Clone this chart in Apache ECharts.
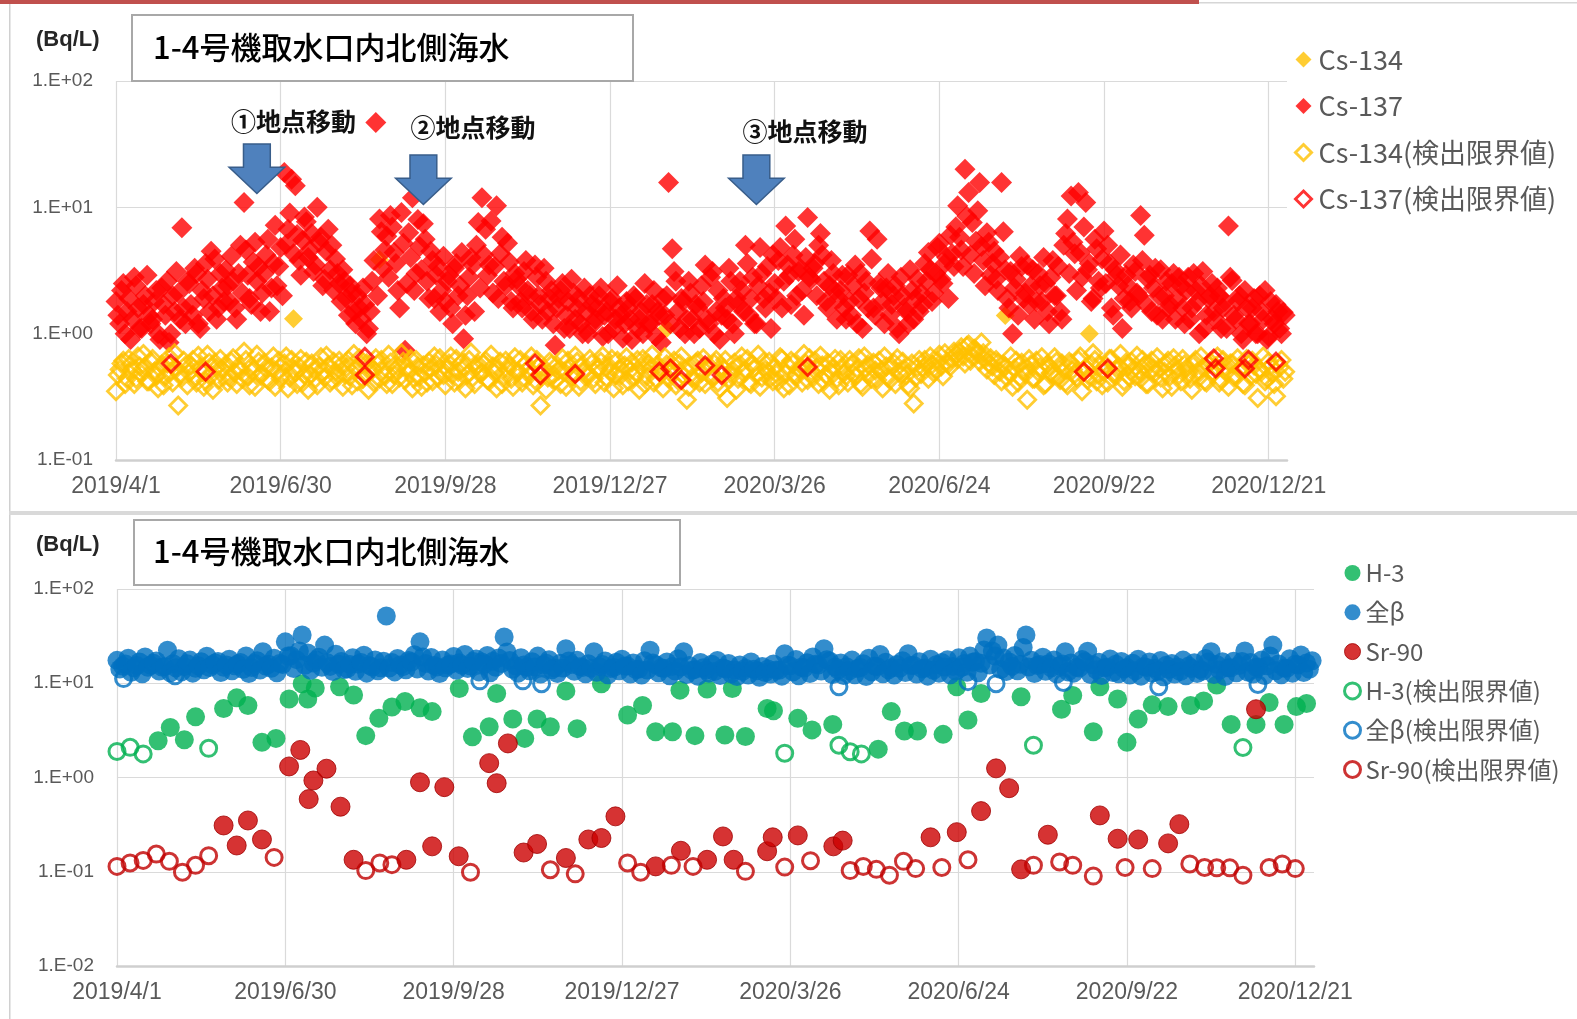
<!DOCTYPE html>
<html><head><meta charset="utf-8">
<script src="https://cdn.jsdelivr.net/npm/echarts@6/dist/echarts.min.js"></script>
<style>html,body{margin:0;padding:0;background:#fff}#c{width:1577px;height:1019px}</style>
</head><body><div id="c"></div><script>
// ---------- axes / labels ----------
const xTickLabels = ['2019/4/1','2019/6/30','2019/9/28','2019/12/27','2020/3/26','2020/6/24','2020/9/22','2020/12/21'];
const X_TICK_DAYS = 90;      // days between tick labels (from 2019/4/1)
const X_MAX_DAY = 640;
const topYExps = [-1, 0, 1, 2];
const topYLabels = ['1.E-01','1.E+00','1.E+01','1.E+02'];
const botYExps = [-2, -1, 0, 1, 2];
const botYLabels = ['1.E-02','1.E-01','1.E+00','1.E+01','1.E+02'];
const chartTitle = '1-4号機取水口内北側海水';
const unitLabel = '(Bq/L)';
const moveLabels = ['①地点移動','②地点移動','③地点移動'];
const moveDays = [77, 168, 350];

// ---------- top panel (Cs) : daily samples from 2019/4/1 (even days / odd days) ----------
const cs137Even = [
 1.8,1.2,2.5,1.5,0.9,2.8,1.6,1.1,2.0,1.4,
 1.3,2.2,0.9,1.7,2.6,1.0,1.5,2.1,6.9,1.2,
 2.5,1.4,3.0,1.1,1.9,2.7,4.5,3.9,1.6,2.3,
 3.2,1.8,2.6,1.3,5.0,10.9,2.9,1.7,5.3,3.4,
 2.1,4.2,1.5,3.6,2.4,4.8,18.9,6.7,16.7,14.8,
 3.8,5.5,7.7,4.6,3.1,10.0,5.8,2.7,6.7,5.0,
 3.9,2.5,3.2,1.9,2.4,1.5,2.0,1.3,1.7,1.1,
 2.6,46.9,8.1,3.3,5.9,8.6,4.4,2.2,9.1,0.74,
 6.3,11.9,3.0,4.9,7.4,2.6,4.5,1.9,3.4,2.2,
 1.8,2.9,1.2,3.6,2.4,0.91,2.0,4.0,1.5,7.6,
 11.9,6.7,3.5,2.1,10.3,4.3,2.6,5.2,1.8,3.0,
 2.4,1.6,3.8,2.0,1.3,2.8,1.7,3.3,1.5,2.2,
 0.81,1.9,2.5,1.4,1.1,2.1,1.6,1.2,2.3,1.0,
 1.7,1.3,2.0,0.95,1.5,1.8,1.1,2.4,1.4,1.2,
 1.6,0.9,1.9,1.3,1.0,1.7,1.2,2.2,1.5,0.85,
 1.4,15.7,4.7,2.6,1.1,1.8,1.3,2.1,1.0,1.6,
 2.4,3.5,1.2,3.1,1.5,0.9,1.9,1.3,2.6,1.0,
 1.7,2.2,5.0,1.4,2.8,1.2,4.8,1.9,3.4,1.1,
 2.5,3.8,1.6,7.1,2.9,4.2,2.0,3.3,1.4,8.3,
 2.7,3.6,5.0,4.2,1.8,2.4,3.0,1.3,2.2,1.6,
 2.9,1.4,3.5,1.9,1.1,2.6,6.5,1.6,5.6,2.3,
 1.2,3.0,1.7,2.4,1.0,2.0,1.5,3.2,1.3,2.7,
 2.1,3.6,4.4,1.8,3.0,5.2,2.5,4.0,6.0,3.4,
 10.3,4.6,20.0,13.1,7.6,5.4,15.7,3.8,6.3,2.9,
 4.5,2.2,15.7,3.2,1.6,1.0,2.7,4.1,1.9,3.5,
 2.4,1.3,3.0,1.8,2.5,1.2,3.8,2.0,1.5,5.0,
 8.1,12.3,4.3,13.1,2.8,10.9,3.6,1.9,4.7,2.3,
 6.5,5.0,1.6,3.2,2.4,1.1,2.9,1.8,3.5,2.1,
 8.6,6.0,2.7,1.5,3.3,2.0,1.3,2.6,1.7,3.0,
 1.9,2.4,1.2,2.8,1.6,2.2,1.0,3.1,1.4,2.0,
 1.5,2.3,1.1,1.8,7.1,2.63,1.3,2.0,0.9,1.6,
 1.2,1.9,1.0,1.5,2.2,0.95,1.3,1.7,1.1,1.48
];
const cs137Odd = [
 1.4,2.2,1.0,1.9,1.3,2.4,1.1,1.7,2.9,1.2,
 1.8,1.0,2.3,1.4,0.85,2.0,3.1,1.3,1.6,2.6,
 1.7,3.3,1.2,2.2,3.6,1.5,2.0,1.3,3.0,1.8,
 2.4,4.1,1.6,3.0,2.1,4.6,1.9,3.7,2.6,1.5,
 3.0,5.6,2.3,7.2,3.4,2.0,5.1,9.0,4.3,6.1,
 2.9,8.4,4.0,6.2,3.5,5.3,2.4,4.5,3.2,2.2,
 3.0,1.8,2.6,1.4,2.1,1.2,1.6,2.3,1.0,1.5,
 3.8,2.0,6.4,4.6,2.8,7.0,3.6,1.6,5.2,2.5,
 4.0,2.2,8.0,3.2,5.6,1.9,3.8,2.9,1.5,4.1,
 2.6,1.6,3.3,2.0,4.4,1.4,2.8,3.5,5.0,2.3,
 4.2,2.9,7.8,3.4,1.9,5.8,2.4,3.7,1.6,2.7,
 1.8,3.1,2.2,1.5,3.5,2.0,1.3,2.6,1.9,1.2,
 1.6,2.2,1.1,1.8,2.7,1.3,1.9,1.0,1.5,2.0,
 1.2,1.6,2.3,1.4,1.0,1.9,1.3,1.6,0.92,1.8,
 1.3,2.0,1.1,1.5,2.5,1.2,1.7,0.95,1.4,1.9,
 2.0,1.2,3.1,1.5,1.9,1.0,2.6,1.3,1.7,1.1,
 1.8,1.3,2.8,1.0,2.2,1.4,1.6,3.3,1.2,1.9,
 2.6,1.5,3.6,1.9,1.2,2.4,3.0,1.6,2.1,4.2,
 1.9,4.8,2.6,3.5,1.7,5.6,3.1,2.2,4.0,2.8,
 3.3,2.0,6.2,2.6,1.6,3.8,2.2,1.9,2.9,1.3,
 1.8,2.4,1.2,3.0,2.1,1.6,3.9,1.4,2.5,1.8,
 2.3,1.4,2.0,1.1,2.8,1.6,1.2,2.2,1.9,1.5,
 1.7,2.6,3.2,2.1,4.8,2.7,3.6,1.9,4.3,7.0,
 5.8,3.4,8.5,4.2,3.0,9.4,4.9,2.4,5.3,3.6,
 2.7,4.0,6.4,1.9,3.1,2.3,1.4,3.4,2.1,1.7,
 3.2,1.8,2.4,4.0,1.5,2.8,2.0,3.4,1.3,6.2,
 3.0,5.3,2.2,4.4,7.0,3.2,1.8,5.6,2.6,3.9,
 2.5,3.6,1.4,2.9,4.2,1.9,2.4,1.6,3.1,2.0,
 3.8,1.7,2.9,2.3,1.4,3.2,2.0,1.6,2.5,1.3,
 2.8,1.6,2.2,1.3,3.0,1.8,2.4,1.1,1.9,2.5,
 1.3,2.0,1.6,1.1,2.8,1.4,1.8,1.0,2.2,1.2,
 1.6,1.0,2.0,1.3,0.9,1.8,1.2,1.5,1.0,1.4
];
const cs134DlEven = [
 0.35,0.52,0.61,0.44,0.57,0.40,0.66,0.48,0.55,0.42,
 0.63,0.46,0.53,0.39,0.58,0.50,0.70,0.27,0.45,0.56,
 0.49,0.62,0.41,0.54,0.38,0.68,0.47,0.59,0.43,0.52,
 0.57,0.45,0.64,0.40,0.51,0.72,0.46,0.55,0.38,0.60,
 0.48,0.53,0.42,0.66,0.50,0.44,0.58,0.37,0.62,0.49,
 0.55,0.41,0.60,0.47,0.52,0.39,0.65,0.45,0.56,0.43,
 0.50,0.61,0.38,0.54,0.46,0.69,0.42,0.57,0.48,0.36,
 0.53,0.64,0.44,0.51,0.40,0.59,0.47,0.55,0.70,0.43,
 0.50,0.37,0.62,0.46,0.56,0.41,0.53,0.66,0.45,0.52,
 0.39,0.58,0.48,0.63,0.43,0.54,0.47,0.71,0.40,0.57,
 0.49,0.61,0.42,0.55,0.37,0.60,0.46,0.52,0.44,0.65,
 0.50,0.41,0.58,0.47,0.39,0.62,0.27,0.53,0.45,0.57,
 0.43,0.51,0.64,0.38,0.55,0.48,0.60,0.42,0.52,0.46,
 0.58,0.40,0.54,0.67,0.45,0.50,0.37,0.61,0.47,0.56,
 0.42,0.59,0.49,0.36,0.63,0.46,0.53,0.41,0.57,0.48,
 0.65,0.44,0.52,0.39,0.58,0.47,0.30,0.55,0.43,0.61,
 0.49,0.40,0.56,0.45,0.62,0.37,0.53,0.31,0.48,0.59,
 0.44,0.66,0.51,0.41,0.57,0.47,0.38,0.60,0.50,0.45,
 0.55,0.42,0.63,0.48,0.39,0.58,0.46,0.52,0.69,0.43,
 0.50,0.61,0.40,0.56,0.47,0.36,0.54,0.44,0.62,0.49,
 0.41,0.57,0.46,0.64,0.38,0.53,0.48,0.59,0.43,0.51,
 0.66,0.45,0.55,0.40,0.50,0.60,0.47,0.37,0.28,0.54,
 0.48,0.62,0.44,0.57,0.51,0.68,0.46,0.60,0.55,0.72,
 0.63,0.78,0.58,0.82,0.66,0.74,0.60,0.70,0.52,0.64,
 0.47,0.59,0.42,0.55,0.49,0.38,0.61,0.45,0.53,0.30,
 0.57,0.44,0.50,0.65,0.40,0.55,0.47,0.60,0.43,0.52,
 0.39,0.58,0.48,0.62,0.35,0.54,0.46,0.70,0.42,0.56,
 0.50,0.41,0.63,0.47,0.55,0.38,0.59,0.45,0.52,0.67,
 0.44,0.56,0.40,0.61,0.49,0.53,0.37,0.58,0.46,0.64,
 0.51,0.42,0.57,0.48,0.36,0.62,0.45,0.54,0.41,0.60,
 0.49,0.66,0.43,0.55,0.38,0.58,0.47,0.52,0.40,0.63,
 0.46,0.56,0.31,0.50,0.42,0.60,0.48,0.32,0.54,0.44
];
const cs134DlOdd = [
 0.47,0.58,0.40,0.63,0.51,0.44,0.55,0.69,0.42,0.60,
 0.50,0.37,0.57,0.46,0.65,0.41,0.53,0.48,0.61,0.39,
 0.56,0.45,0.67,0.50,0.42,0.59,0.36,0.54,0.63,0.46,
 0.41,0.60,0.49,0.55,0.44,0.62,0.39,0.51,0.68,0.47,
 0.59,0.43,0.54,0.38,0.61,0.48,0.66,0.45,0.52,0.40,
 0.63,0.47,0.36,0.58,0.44,0.55,0.49,0.67,0.41,0.60,
 0.45,0.56,0.48,0.62,0.39,0.53,0.64,0.44,0.58,0.50,
 0.41,0.57,0.62,0.46,0.68,0.40,0.52,0.45,0.60,0.54,
 0.63,0.44,0.55,0.38,0.49,0.60,0.42,0.57,0.64,0.47,
 0.53,0.66,0.41,0.50,0.59,0.37,0.62,0.45,0.55,0.48,
 0.58,0.43,0.68,0.49,0.53,0.40,0.61,0.56,0.38,0.50,
 0.62,0.45,0.52,0.66,0.43,0.55,0.49,0.36,0.60,0.47,
 0.56,0.40,0.50,0.61,0.45,0.67,0.38,0.57,0.48,0.63,
 0.44,0.53,0.60,0.41,0.56,0.63,0.47,0.52,0.39,0.65,
 0.51,0.46,0.62,0.55,0.40,0.58,0.68,0.44,0.53,0.37,
 0.57,0.49,0.61,0.43,0.66,0.52,0.38,0.45,0.59,0.41,
 0.64,0.53,0.46,0.58,0.41,0.55,0.62,0.44,0.51,0.36,
 0.57,0.49,0.63,0.40,0.54,0.68,0.45,0.52,0.60,0.42,
 0.48,0.65,0.37,0.56,0.61,0.46,0.53,0.41,0.58,0.64,
 0.45,0.54,0.67,0.42,0.59,0.50,0.63,0.39,0.55,0.46,
 0.62,0.48,0.53,0.40,0.66,0.57,0.44,0.51,0.61,0.37,
 0.55,0.43,0.59,0.64,0.47,0.52,0.39,0.58,0.45,0.62,
 0.53,0.57,0.66,0.49,0.61,0.55,0.70,0.58,0.64,0.68,
 0.72,0.66,0.80,0.61,0.76,0.69,0.85,0.63,0.58,0.55,
 0.62,0.50,0.57,0.45,0.66,0.53,0.41,0.59,0.48,0.63,
 0.44,0.61,0.54,0.39,0.57,0.49,0.65,0.46,0.58,0.41,
 0.60,0.52,0.45,0.66,0.50,0.43,0.57,0.62,0.47,0.39,
 0.56,0.63,0.48,0.53,0.69,0.42,0.55,0.60,0.46,0.51,
 0.62,0.40,0.57,0.52,0.65,0.45,0.50,0.61,0.38,0.56,
 0.47,0.63,0.53,0.44,0.59,0.50,0.66,0.42,0.57,0.48,
 0.55,0.41,0.62,0.50,0.58,0.45,0.64,0.53,0.39,0.57,
 0.61,0.48,0.52,0.66,0.44,0.55,0.40,0.58,0.62,0.50
];
const cs134Days = [97, 144, 301, 486, 532];
const cs134Vals = [1.31, 3.86, 1.1, 1.39, 1.0];
const cs137DlDays = [30, 49, 136, 136, 229, 232, 251, 297, 303, 309, 322, 331, 378, 529, 542, 600, 601, 617, 619, 634];
const cs137DlVals = [0.58, 0.50, 0.655, 0.47, 0.58, 0.47, 0.48, 0.50, 0.53, 0.43, 0.56, 0.47, 0.545, 0.50, 0.53, 0.635, 0.53, 0.53, 0.62, 0.60];

// ---------- bottom panel ----------
const h3Days = [22,28.5,36,42,57,64,70,77.5,85,92,99,102,106,119,126.5,133,140,147,154,162,168.5,183,190,199,203,211.6,218,224.6,231.7,240,246,259,273,281,288,297,301,309,315.5,325,329,336,347.6,351,364,371.6,382.7,407,414,421,428,441.7,449,455,462,483.4,505,511,522,525.5,535,540,546,553.5,562,574,581,588,595.7,609,616,624,630.6,636];
const h3Vals = [2.45,3.4,2.52,4.4,5.4,7.0,5.8,2.36,2.6,6.8,9.9,6.8,8.9,9.2,7.5,2.78,4.24,5.6,6.4,5.5,5.0,8.8,2.7,3.46,7.8,4.17,2.6,4.17,3.46,8.3,3.3,9.9,4.6,5.8,3.06,3.06,8.45,2.78,8.7,2.83,8.8,2.72,5.4,5.1,4.24,3.2,3.66,2.0,5.0,3.12,3.12,2.87,9.2,4.08,7.8,7.2,5.3,7.4,3.06,9.2,6.8,2.36,4.17,5.9,5.65,5.8,6.5,9.6,3.66,3.66,6.25,3.66,5.65,6.1];
// 全β: samples every 3 days from day 0 (A) and from day 1.5 (B)
const betaA = [
 17.5,15.2,18.4,14.6,16.8,19.0,15.5,17.2,14.9,22.4,
 16.1,18.2,15.0,17.6,14.4,16.9,19.3,15.7,17.0,14.8,
 18.0,15.3,16.6,19.5,14.7,17.3,21.6,15.9,18.4,16.2,
 27.5,19.6,17.8,32.5,21.0,16.4,18.9,25.4,15.1,20.3,
 17.0,14.2,18.6,16.0,19.8,15.4,17.7,14.6,51.8,16.6,
 18.3,15.0,17.4,20.1,27.5,16.2,18.8,14.9,17.6,15.6,
 19.2,16.5,20.2,15.2,18.1,16.8,19.7,17.1,18.5,31.0,
 17.4,15.3,18.7,14.8,16.9,19.4,15.6,17.8,14.5,16.3,
 23.2,15.8,17.5,14.7,16.1,21.6,15.0,17.2,14.3,16.7,
 18.0,15.2,16.4,14.1,17.3,22.4,15.7,14.6,16.8,15.1,
 18.2,21.6,15.4,14.0,16.6,13.8,15.9,17.4,14.5,16.2,
 13.9,15.6,14.4,16.8,13.6,15.1,14.2,16.0,13.7,20.6,
 15.3,17.9,14.8,16.5,19.0,15.6,23.2,17.2,14.9,16.4,
 15.0,17.6,14.3,16.1,18.4,15.2,20.2,16.7,14.6,15.8,
 17.3,20.6,15.4,16.9,14.5,18.0,15.7,16.6,17.8,15.1,
 18.6,16.2,19.4,17.0,16.3,30.2,22.0,25.4,18.5,16.8,
 19.7,15.9,32.5,17.5,15.4,18.9,16.1,17.7,15.3,21.6,
 16.4,14.8,17.9,21.9,15.6,16.7,14.6,18.1,15.9,17.0,
 14.7,16.3,18.0,15.1,16.8,14.4,17.4,15.5,16.2,14.9,
 17.6,15.2,16.5,14.1,18.3,21.6,15.8,16.9,14.6,17.1,
 15.4,22.0,16.6,14.8,17.7,15.3,25.4,16.0,14.5,18.2,
 15.9,20.0,16.4,17.3
];
const betaB = [
 14.2,16.0,13.1,15.4,12.6,14.8,16.3,13.5,15.0,12.9,
 14.6,13.2,16.1,12.8,15.3,13.9,14.7,16.4,13.0,15.6,
 13.6,15.9,14.1,12.7,16.2,13.8,15.2,14.4,12.9,15.8,
 19.5,14.3,22.0,15.5,13.7,17.6,14.8,16.5,13.3,15.9,
 14.0,15.8,13.4,16.6,12.8,14.9,13.6,17.1,14.5,13.2,
 15.6,13.9,16.8,14.2,19.0,13.5,15.4,12.7,14.6,16.0,
 13.7,15.5,14.3,17.0,13.2,15.9,12.9,14.8,16.2,21.5,
 14.1,12.8,15.6,13.6,14.9,12.5,16.3,13.9,12.7,14.5,
 17.2,13.4,15.0,12.6,14.4,13.1,15.8,12.3,14.7,13.6,
 15.2,12.5,14.0,12.2,13.8,16.4,12.9,14.3,12.0,13.5,
 14.9,12.4,13.7,11.9,14.6,12.8,13.3,12.1,14.2,12.6,
 11.8,13.4,12.2,14.1,11.6,13.0,12.5,13.8,11.9,15.5,
 13.2,12.0,14.5,12.7,15.9,13.5,17.8,12.4,13.9,12.1,
 13.6,12.3,14.7,11.8,13.2,15.0,12.6,13.9,12.2,14.4,
 13.0,15.4,12.5,14.2,11.9,13.7,12.8,14.9,12.3,13.5,
 14.8,13.1,16.7,12.9,22.5,15.6,19.4,14.0,13.3,15.1,
 13.6,24.0,14.9,12.7,15.8,13.4,14.6,12.5,16.0,13.2,
 12.8,14.5,16.9,12.4,13.9,12.1,14.8,13.0,12.6,14.2,
 12.2,13.6,11.9,14.7,12.8,13.4,11.7,14.0,12.5,13.3,
 12.0,14.3,12.7,13.5,16.8,12.4,13.8,11.8,14.6,12.9,
 17.0,13.2,12.5,14.9,12.1,19.5,13.6,12.3,14.4,12.8,
 15.6,13.0,14.1
];
const sr90Days = [57,64,70,77.5,92,98,102.5,105,112,119.5,126.5,154.7,162,168.5,175,182.7,199,203,209,217.4,224.6,240,252,259,266.5,288,301.5,315.5,324,329.7,347.6,350.6,364,383,388,435,449,462,470,477,483.4,497.7,525.5,535,546,562,568,609];
const sr90Vals = [0.31,0.19,0.35,0.22,1.31,1.96,0.59,0.93,1.24,0.49,0.134,0.134,0.89,0.186,0.79,0.146,1.42,0.87,2.3,0.16,0.197,0.14,0.22,0.228,0.387,0.114,0.167,0.134,0.237,0.134,0.165,0.232,0.243,0.186,0.214,0.232,0.263,0.44,1.25,0.77,0.106,0.247,0.396,0.224,0.22,0.2,0.32,5.3];
const h3DlDays = [0, 7, 14, 49, 357, 386, 392, 398, 490, 602];
const h3DlVals = [1.89, 2.09, 1.78, 2.04, 1.81, 2.2, 1.88, 1.78, 2.2, 2.08];
const betaDlDays = [3.5, 31, 194, 217, 227, 386, 455, 470, 506, 557, 610];
const betaDlVals = [11.2, 12.0, 10.6, 10.6, 9.9, 9.2, 10.4, 9.9, 10.2, 9.2, 9.7];
const sr90DlDays = [0,7,14,21,28,35,42,49,84,133,140.5,147,189,231.7,245,273,280,296.4,308,336,357,370.8,392,399,406,413,420.5,427,441,455,490,504,511,522,539,553.5,573.6,581.5,588,595,602,616,623,630];
const sr90DlVals = [0.114,0.124,0.132,0.154,0.129,0.099,0.117,0.148,0.142,0.103,0.124,0.119,0.099,0.105,0.095,0.124,0.099,0.117,0.114,0.101,0.112,0.131,0.103,0.114,0.106,0.092,0.129,0.108,0.111,0.134,0.117,0.127,0.117,0.09,0.111,0.108,0.121,0.111,0.11,0.11,0.092,0.111,0.121,0.108];

// ---------- helpers ----------
const FONT_JP = '"Noto Sans CJK JP", "Noto Sans", sans-serif';
const FONT_LAT = '"Liberation Sans", Arial, sans-serif';
const pairs = (d, v) => d.map((x, i) => [x, v[i]]);
const stepPairs = (v, step, start) => v.map((y, i) => [start + i * step, y]);
const TRANSP = 'rgba(0,0,0,0)';

function xAxisCfg(gridIndex) {
  return {
    gridIndex, type: 'value', min: 0, max: X_MAX_DAY, interval: X_TICK_DAYS,
    axisLine: { show: true, lineStyle: { color: '#CFCFCF', width: 2.5 } },
    axisTick: { show: false },
    splitLine: { show: true, showMaxLine: false, lineStyle: { color: '#DADADA', width: 1.2 } },
    axisLabel: {
      margin: 15, color: '#595959', fontSize: 23, fontFamily: FONT_LAT,
      showMaxLabel: false,
      formatter: v => (v % X_TICK_DAYS === 0 ? (xTickLabels[v / X_TICK_DAYS] || '') : '')
    }
  };
}
function yAxisCfg(gridIndex, min, max, exps, labels) {
  return {
    gridIndex, type: 'log', logBase: 10, min, max,
    axisLine: { show: false }, axisTick: { show: false },
    splitLine: { show: true, lineStyle: { color: '#DADADA', width: 1.2 } },
    axisLabel: {
      margin: 23, color: '#595959', fontSize: 19, fontFamily: FONT_LAT,
      formatter: v => { const e = Math.round(Math.log10(v)); const i = exps.indexOf(e); return i >= 0 ? labels[i] : ''; }
    }
  };
}
function sc(name, xi, data, symbol, size, style) {
  return {
    name, type: 'scatter', xAxisIndex: xi, yAxisIndex: xi, data, symbol, symbolSize: size,
    itemStyle: style, silent: true, animation: false, large: false, progressive: 0
  };
}

const stTop = {
  cs134: { color: '#FFC000' },
  cs137: { color: '#FF0000' },
  cs134dl: { color: TRANSP, borderColor: '#FFC000', borderWidth: 2.8 },
  cs137dl: { color: TRANSP, borderColor: '#FF0000', borderWidth: 3 }
};
const stBot = {
  h3: { color: '#00B050' },
  beta: { color: '#0070C0' },
  sr: { color: '#CC0000', borderColor: '#A00000', borderWidth: 1 },
  h3dl: { color: TRANSP, borderColor: '#00B050', borderWidth: 3 },
  betadl: { color: TRANSP, borderColor: '#0070C0', borderWidth: 3 },
  srdl: { color: TRANSP, borderColor: '#C00000', borderWidth: 3 }
};

const topNames = ['Cs-134', 'Cs-137', 'Cs-134(検出限界値)', 'Cs-137(検出限界値)'];
const botNames = ['H-3', '全β', 'Sr-90', 'H-3(検出限界値)', '全β(検出限界値)', 'Sr-90(検出限界値)'];

const option = {
  animation: false,
  backgroundColor: '#ffffff',
  grid: [
    { left: 116, top: 81, width: 1171, height: 379 },
    { left: 117, top: 589, width: 1197, height: 377 }
  ],
  xAxis: [xAxisCfg(0), xAxisCfg(1)],
  yAxis: [
    yAxisCfg(0, 0.1, 100, topYExps, topYLabels),
    yAxisCfg(1, 0.01, 100, botYExps, botYLabels)
  ],
  legend: [
    {
      orient: 'vertical', left: 1294, top: 46, padding: 0, itemGap: 19.5,
      itemWidth: 16, itemHeight: 16, selectedMode: false,
      textStyle: { color: '#595959', fontSize: 27, lineHeight: 27, fontFamily: FONT_JP, padding: [0, 0, 0, 2] },
      data: [
        { name: topNames[0], icon: 'diamond', itemStyle: stTop.cs134 },
        { name: topNames[1], icon: 'diamond', itemStyle: stTop.cs137 },
        { name: topNames[2], icon: 'diamond', itemStyle: Object.assign({}, stTop.cs134dl, { borderWidth: 3 }) },
        { name: topNames[3], icon: 'diamond', itemStyle: Object.assign({}, stTop.cs137dl, { borderWidth: 3 }) }
      ]
    },
    {
      orient: 'vertical', left: 1343, top: 561, padding: 0, itemGap: 15.3,
      itemWidth: 16, itemHeight: 16, selectedMode: false,
      textStyle: { color: '#595959', fontSize: 24, lineHeight: 24, fontFamily: FONT_JP, padding: [0, 0, 0, 0] },
      data: [
        { name: botNames[0], icon: 'circle', itemStyle: stBot.h3 },
        { name: botNames[1], icon: 'circle', itemStyle: stBot.beta },
        { name: botNames[2], icon: 'circle', itemStyle: stBot.sr },
        { name: botNames[3], icon: 'circle', itemStyle: stBot.h3dl },
        { name: botNames[4], icon: 'circle', itemStyle: stBot.betadl },
        { name: botNames[5], icon: 'circle', itemStyle: stBot.srdl }
      ]
    }
  ],
  series: [
    sc(topNames[0], 0, pairs(cs134Days, cs134Vals), 'diamond', 19, stTop.cs134),
    sc(topNames[1], 0, stepPairs(cs137Even, 2, 0).concat(stepPairs(cs137Odd, 2, 1)), 'diamond', 21, stTop.cs137),
    sc(topNames[2], 0, stepPairs(cs134DlEven, 2, 0).concat(stepPairs(cs134DlOdd, 2, 1)), 'diamond', 17, stTop.cs134dl),
    sc(topNames[3], 0, pairs(cs137DlDays, cs137DlVals), 'diamond', 17, stTop.cs137dl),
    sc(botNames[0], 1, pairs(h3Days, h3Vals), 'circle', 19, stBot.h3),
    sc(botNames[1], 1, stepPairs(betaA, 3, 0).concat(stepPairs(betaB, 3, 1.5)), 'circle', 19, stBot.beta),
    sc(botNames[2], 1, pairs(sr90Days, sr90Vals), 'circle', 19, stBot.sr),
    sc(botNames[3], 1, pairs(h3DlDays, h3DlVals), 'circle', 16, stBot.h3dl),
    sc(botNames[4], 1, pairs(betaDlDays, betaDlVals), 'circle', 16, stBot.betadl),
    sc(botNames[5], 1, pairs(sr90DlDays, sr90DlVals), 'circle', 16, stBot.srdl)
  ]
};

const chart = echarts.init(document.getElementById('c'), null, { renderer: 'canvas' });
chart.setOption(option);

// ---------- decorations ----------
const g = [];
g.push({ type: 'rect', shape: { x: 0, y: 0, width: 1199, height: 4 }, style: { fill: '#C0504D' }, z: 100 });
g.push({ type: 'rect', shape: { x: 1199, y: 2, width: 378, height: 1.5 }, style: { fill: '#D6D6D6' }, z: 100 });
g.push({ type: 'rect', shape: { x: 9, y: 4, width: 1.5, height: 1015 }, style: { fill: '#D0D0D0' }, z: 100 });
g.push({ type: 'rect', shape: { x: 9, y: 511, width: 1568, height: 4 }, style: { fill: '#D9D9D9' }, z: 100 });
function titleBox(x, y, w, h, ty) {
  g.push({ type: 'rect', shape: { x, y, width: w, height: h }, style: { fill: '#fff', stroke: '#A8A8A8', lineWidth: 2 }, z: 100 });
  g.push({ type: 'text', x: 153, y: ty, style: { text: chartTitle, fill: '#000', font: '500 31px ' + FONT_JP, verticalAlign: 'middle', textAlign: 'left' }, z: 101 });
}
titleBox(132, 15, 501, 66, 47);
titleBox(134, 520, 546, 65, 551);
g.push({ type: 'text', x: 36, y: 40, style: { text: unitLabel, fill: '#262626', font: 'bold 22px ' + FONT_LAT, verticalAlign: 'middle' }, z: 101 });
g.push({ type: 'text', x: 36, y: 545, style: { text: unitLabel, fill: '#262626', font: 'bold 22px ' + FONT_LAT, verticalAlign: 'middle' }, z: 101 });

const arrowTops = [144, 155, 155];
const labelOffsets = [-26, -13, -14];
const labelYs = [121.5, 127, 131.5];
moveDays.forEach((d, i) => {
  const cx = chart.convertToPixel({ xAxisIndex: 0 }, d);
  const y0 = arrowTops[i], tip = y0 + 49.5, hy = y0 + 23.3, sw = 13.4, hw = 27.8;
  g.push({ type: 'polygon', shape: { points: [[cx - sw, y0], [cx + sw, y0], [cx + sw, hy], [cx + hw, hy], [cx, tip], [cx - hw, hy], [cx - sw, hy]] },
    style: { fill: '#4F81BD', stroke: '#385D8A', lineWidth: 1.5 }, z: 100 });
  g.push({ type: 'text', x: cx + labelOffsets[i], y: labelYs[i], style: { text: moveLabels[i], fill: '#111', font: 'bold 25px ' + FONT_JP, verticalAlign: 'middle' }, z: 101 });
});
chart.setOption({ graphic: g });
</script></body></html>
